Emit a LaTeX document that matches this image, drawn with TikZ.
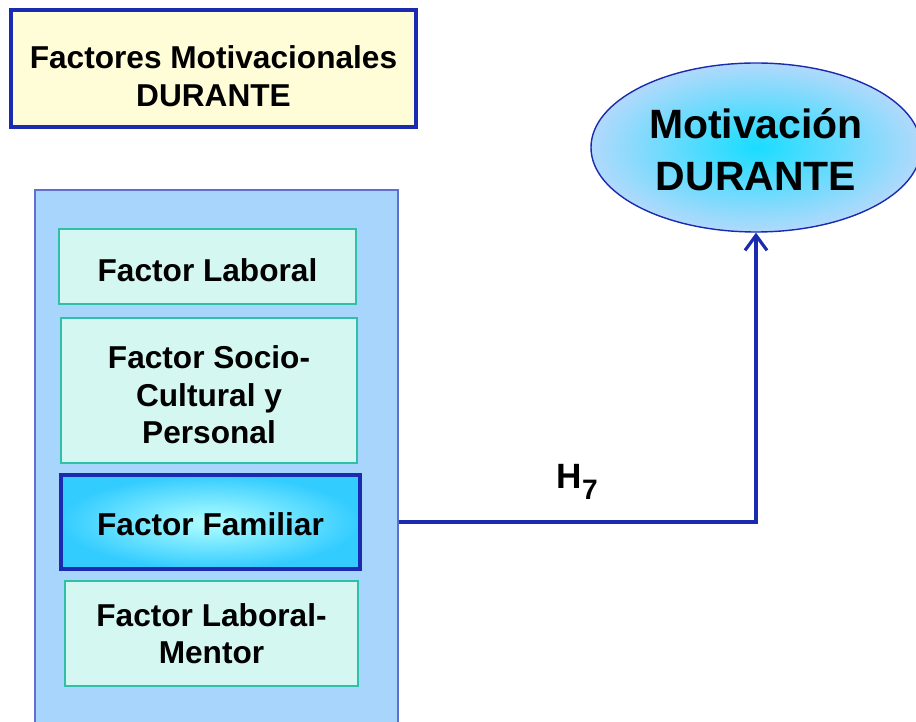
\documentclass[tikz,border=0pt]{standalone}
\usepackage{fontspec}
\setsansfont{Liberation Sans}
\usepackage{xcolor}
\usepackage{tikz}
\usetikzlibrary{shapes.geometric, arrows.meta, positioning, calc}

\definecolor{lineblue}{HTML}{1A2BB0}
\definecolor{paleyellow}{HTML}{FFFDD8}
\definecolor{panelblue}{HTML}{A8D5FB}
\definecolor{panelline}{HTML}{6070D0}
\definecolor{factorfill}{HTML}{D5F7F1}
\definecolor{factorline}{HTML}{30C0A8}

\begin{document}
\begin{tikzpicture}[
    font=\sffamily\bfseries,
    >={Straight Barb[length=3mm, width=4.4mm, line width=1.8pt]},
    title/.style={draw=lineblue, fill=paleyellow, line width=1.8pt, align=center, minimum width=8.1cm, minimum height=2.34cm, font=\sffamily\bfseries\fontsize{18}{21.6}\selectfont},
    target/.style={ellipse, draw=lineblue, line width=0.8pt, inner color=cyan!85!blue!90, outer color=panelblue!90!white, align=center, minimum width=6.6cm, minimum height=3.38cm, font=\sffamily\bfseries\fontsize{23.3}{29.6}\selectfont},
    panel/.style={draw=panelline, fill=panelblue, line width=0.8pt, minimum width=7.26cm, minimum height=10.9cm},
    factor/.style={draw=factorline, fill=factorfill, line width=1.7pt, align=center, minimum width=5.94cm, font=\sffamily\bfseries\fontsize{18}{21.4}\selectfont},
    active/.style={draw=lineblue, line width=2.2pt, inner color=cyan!30!white, outer color=cyan!75!blue!80, align=center, minimum width=5.98cm, minimum height=1.88cm, font=\sffamily\bfseries\fontsize{18}{21.4}\selectfont},
    arrow/.style={->, line width=2pt, lineblue}
]
\useasboundingbox (0,0) rectangle (18.32,-14.44);

% Nodes
\node[title] (title) at (4.27,-1.37) {\rule{0pt}{22pt}Factores Motivacionales\\DURANTE};
\node[target] (motiv) at (15.12,-2.95) {\rule{0pt}{20pt}Motivación\\DURANTE};

% Factor group
\node[panel] (panel) at (4.33,-9.25) {};
\node[factor, minimum height=1.5cm] (laboral) at (4.15,-5.33) {\rule{0pt}{17pt}Factor Laboral};
\node[factor, minimum width=5.92cm, minimum height=2.9cm] (socio) at (4.18,-7.81) {\rule{0pt}{18pt}Factor Socio-\\Cultural y\\Personal};
\node[active] (familiar) at (4.21,-10.44) {\rule{0pt}{16pt}Factor Familiar};
\node[factor, minimum width=5.86cm, minimum height=2.1cm] (mentor) at (4.23,-12.67) {Factor Laboral-\\Mentor};

% Arrows
\draw[arrow] (familiar -| panel.east) -| node[pos=0.25, above=0.3cm, text=black, font=\sffamily\bfseries\fontsize{20}{24}\selectfont] {H\raisebox{-6pt}{\fontsize{16}{16}\selectfont 7}} (motiv.south);

\end{tikzpicture}
\end{document}
